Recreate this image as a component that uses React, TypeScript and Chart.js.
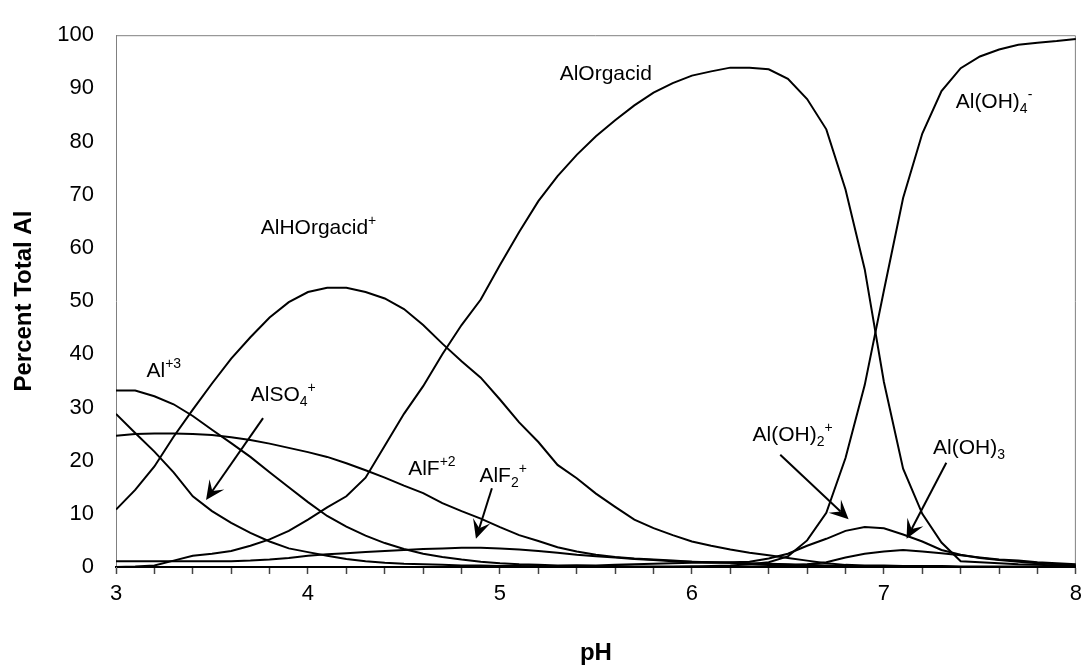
import React, { useEffect, useRef } from "react";
import { Chart, registerables } from "chart.js";

Chart.register(...registerables);

// pH grid (x values)
const pH = [
  3.0, 3.1, 3.2, 3.3, 3.4, 3.5, 3.6, 3.7, 3.8, 3.9,
  4.0, 4.1, 4.2, 4.3, 4.4, 4.5, 4.6, 4.7, 4.8, 4.9,
  5.0, 5.1, 5.2, 5.3, 5.4, 5.5, 5.6, 5.7, 5.8, 5.9,
  6.0, 6.1, 6.2, 6.3, 6.4, 6.5, 6.6, 6.7, 6.8, 6.9,
  7.0, 7.1, 7.2, 7.3, 7.4, 7.5, 7.6, 7.7, 7.8, 7.9, 8.0,
];

// Percent of total Al for each species
const al3 = [
  33.2, 33.2, 32.1, 30.6, 28.4, 25.8, 23.3, 20.7, 17.8, 15.0,
  12.2, 9.6, 7.6, 5.9, 4.5, 3.4, 2.5, 1.9, 1.4, 1.0,
  0.7, 0.5, 0.4, 0.3, 0.3, 0.2, 0.2, 0.1, 0.1, 0.1,
  0.1, 0, 0, 0, 0, 0, 0, 0, 0, 0,
  0, 0, 0, 0, 0, 0, 0, 0, 0, 0, 0,
];
const alSO4 = [
  28.8, 25.2, 21.7, 17.8, 13.3, 10.5, 8.3, 6.4, 4.8, 3.5,
  2.8, 2.1, 1.5, 1.1, 0.8, 0.6, 0.5, 0.4, 0.3, 0.3,
  0.2, 0.2, 0.1, 0.1, 0.1, 0.1, 0, 0, 0, 0,
  0, 0, 0, 0, 0, 0, 0, 0, 0, 0,
  0, 0, 0, 0, 0, 0, 0, 0, 0, 0, 0,
];
const alF = [
  24.7, 25.0, 25.1, 25.1, 25.0, 24.8, 24.4, 23.9, 23.2, 22.4,
  21.6, 20.7, 19.5, 18.2, 16.8, 15.3, 13.9, 12.0, 10.5, 9.1,
  7.5, 6.0, 4.9, 3.7, 2.9, 2.3, 1.9, 1.6, 1.4, 1.2,
  1.0, 0.9, 0.8, 0.7, 0.6, 0.5, 0.4, 0.3, 0.2, 0.2,
  0.1, 0.1, 0.1, 0.1, 0, 0, 0, 0, 0, 0, 0,
];
const alF2 = [
  1.1, 1.1, 1.1, 1.1, 1.1, 1.1, 1.1, 1.2, 1.4, 1.7,
  2.1, 2.4, 2.6, 2.8, 3.0, 3.2, 3.4, 3.5, 3.6, 3.6,
  3.5, 3.3, 3.0, 2.7, 2.3, 2.0, 1.8, 1.5, 1.3, 1.1,
  1.0, 0.9, 0.8, 0.6, 0.5, 0.4, 0.3, 0.2, 0.2, 0.1,
  0.1, 0.1, 0, 0, 0, 0, 0, 0, 0, 0, 0,
];
const alHOrgacid = [
  10.8, 14.5, 18.9, 24.5, 29.6, 34.5, 39.2, 43.2, 46.9, 49.8,
  51.7, 52.5, 52.5, 51.7, 50.5, 48.5, 45.5, 42.0, 38.7, 35.6,
  31.5, 27.2, 23.5, 19.2, 16.7, 13.8, 11.3, 8.9, 7.3, 6.0,
  4.8, 4.0, 3.3, 2.7, 2.2, 1.7, 1.2, 0.7, 0.4, 0.3,
  0.3, 0.2, 0.2, 0.2, 0.1, 0.1, 0.1, 0.1, 0.1, 0.1, 0.1,
];
const alOrgacid = [
  0.0, 0.1, 0.3, 1.2, 2.1, 2.5, 3.0, 4.0, 5.2, 6.8,
  8.9, 11.2, 13.3, 16.8, 22.8, 28.8, 34.0, 40.0, 45.5, 50.3,
  56.8, 63.0, 68.8, 73.5, 77.5, 81.0, 84.0, 86.8, 89.2, 91.0,
  92.4, 93.2, 93.9, 93.9, 93.6, 91.8, 88.0, 82.3, 71.0, 56.0,
  34.8, 18.5, 10.0, 4.6, 1.1, 0.9, 0.7, 0.5, 0.4, 0.3, 0.2,
];
const alOH4 = [
  0, 0, 0, 0, 0, 0, 0, 0, 0, 0,
  0, 0, 0, 0, 0, 0, 0, 0, 0, 0,
  0, 0, 0, 0, 0, 0, 0, 0, 0, 0,
  0.1, 0.2, 0.3, 0.5, 0.9, 2.0, 5.0, 10.2, 20.5, 34.2,
  52.0, 69.4, 81.5, 89.5, 93.8, 96.0, 97.3, 98.2, 98.6, 98.9, 99.3,
];
const alOH2 = [
  0, 0, 0, 0, 0, 0, 0, 0, 0, 0,
  0, 0, 0, 0, 0, 0, 0, 0, 0, 0,
  0.1, 0.1, 0.2, 0.2, 0.3, 0.3, 0.4, 0.5, 0.6, 0.7,
  0.8, 0.8, 0.9, 1.0, 1.6, 2.5, 4.0, 5.3, 6.8, 7.5,
  7.3, 6.1, 4.8, 3.2, 2.3, 1.7, 1.3, 1.0, 0.7, 0.5, 0.3,
];
const alOH3 = [
  0, 0, 0, 0, 0, 0, 0, 0, 0, 0,
  0, 0, 0, 0, 0, 0, 0, 0, 0, 0,
  0, 0, 0, 0, 0, 0, 0, 0, 0, 0,
  0, 0, 0.1, 0.1, 0.2, 0.3, 0.5, 0.9, 1.8, 2.5,
  2.9, 3.2, 2.9, 2.6, 2.2, 1.8, 1.4, 1.2, 0.9, 0.7, 0.5,
];

const seriesNames = [
  "Al+3", "AlSO4+", "AlF+2", "AlF2+", "AlHOrgacid+",
  "AlOrgacid", "Al(OH)4-", "Al(OH)2+", "Al(OH)3",
];
const seriesValues = [al3, alSO4, alF, alF2, alHOrgacid, alOrgacid, alOH4, alOH2, alOH3];

const xTitle = "pH";
const yTitle = "Percent Total Al";

// Curve labels: [pH, percent] of the text baseline start, with sub/superscript parts
type Part = { t: string; k?: "sub" | "sup" };
const curveLabels: { x: number; y: number; parts: Part[] }[] = [
  { x: 3.159, y: 35.8, parts: [{ t: "Al" }, { t: "+3", k: "sup" }] },
  { x: 3.702, y: 31.2, parts: [{ t: "AlSO" }, { t: "4", k: "sub" }, { t: "+", k: "sup" }] },
  { x: 3.754, y: 62.6, parts: [{ t: "AlHOrgacid" }, { t: "+", k: "sup" }] },
  { x: 5.311, y: 91.6, parts: [{ t: "AlOrgacid" }] },
  { x: 7.374, y: 86.3, parts: [{ t: "Al(OH)" }, { t: "4", k: "sub" }, { t: "-", k: "sup" }] },
  { x: 4.522, y: 17.3, parts: [{ t: "AlF" }, { t: "+2", k: "sup" }] },
  { x: 4.893, y: 16.0, parts: [{ t: "AlF" }, { t: "2", k: "sub" }, { t: "+", k: "sup" }] },
  { x: 6.316, y: 23.7, parts: [{ t: "Al(OH)" }, { t: "2", k: "sub" }, { t: "+", k: "sup" }] },
  { x: 7.256, y: 21.2, parts: [{ t: "Al(OH)" }, { t: "3", k: "sub" }] },
];

// Arrows: tail [pH, %] -> head [pH, %]
const arrowFrom = [[3.766, 28.0], [4.958, 14.8], [6.46, 21.1], [7.325, 19.6]];
const arrowTo = [[3.469, 12.6], [4.875, 5.3], [6.816, 9.0], [7.118, 5.3]];

const FONT = "'Liberation Sans', Arial, Helvetica, sans-serif";

const annotPlugin = {
  id: "annot",
  beforeDatasetsDraw(chart: any) {
    const { ctx, chartArea: a } = chart;
    ctx.save();
    ctx.strokeStyle = "#808080";
    ctx.lineWidth = 1;
    ctx.beginPath();
    ctx.moveTo(a.left, a.top + 0.5);
    ctx.lineTo(a.right - 0.5, a.top + 0.5);
    ctx.lineTo(a.right - 0.5, a.bottom);
    ctx.stroke();
    ctx.restore();
  },
  afterDatasetsDraw(chart: any) {
    const { ctx } = chart;
    const xs = chart.scales.x;
    const ys = chart.scales.y;
    ctx.save();
    ctx.fillStyle = "#000";
    ctx.textAlign = "left";
    ctx.textBaseline = "alphabetic";
    for (const lab of curveLabels) {
      let px = xs.getPixelForValue(lab.x);
      const py = ys.getPixelForValue(lab.y);
      for (const p of lab.parts) {
        const small = !!p.k;
        ctx.font = `${small ? 14 : 21}px ${FONT}`;
        const dy = p.k === "sup" ? -9 : p.k === "sub" ? 5 : 0;
        ctx.fillText(p.t, px, py + dy);
        px += ctx.measureText(p.t).width;
      }
    }
    ctx.strokeStyle = "#000";
    ctx.fillStyle = "#000";
    ctx.lineWidth = 2;
    for (let i = 0; i < arrowFrom.length; i++) {
      const x0 = xs.getPixelForValue(arrowFrom[i][0]);
      const y0 = ys.getPixelForValue(arrowFrom[i][1]);
      const x1 = xs.getPixelForValue(arrowTo[i][0]);
      const y1 = ys.getPixelForValue(arrowTo[i][1]);
      const ang = Math.atan2(y1 - y0, x1 - x0);
      const c = Math.cos(ang), s = Math.sin(ang);
      const L = 19, W = 9, N = 11;
      ctx.beginPath();
      ctx.moveTo(x0, y0);
      ctx.lineTo(x1 - N * c, y1 - N * s);
      ctx.stroke();
      const bx = x1 - L * c, by = y1 - L * s;
      ctx.beginPath();
      ctx.moveTo(x1, y1);
      ctx.lineTo(bx - W * s, by + W * c);
      ctx.lineTo(x1 - N * c, y1 - N * s);
      ctx.lineTo(bx + W * s, by - W * c);
      ctx.closePath();
      ctx.fill();
    }
    ctx.restore();
  },
};

export default function App() {
  const ref = useRef<HTMLCanvasElement>(null);
  useEffect(() => {
    const datasets = seriesValues.map((vals, k) => ({
      label: seriesNames[k],
      data: pH.map((x, i) => ({ x, y: vals[i] })),
      borderColor: "#000",
      backgroundColor: "#000",
      borderWidth: 2,
      pointRadius: 0,
      tension: 0,
      fill: false,
    }));
    const chart = new Chart(ref.current as HTMLCanvasElement, {
      type: "line",
      data: { datasets },
      plugins: [annotPlugin],
      options: {
        animation: false,
        responsive: false,
        layout: { padding: { left: 0, right: 7, top: 20, bottom: 0 } },
        plugins: { legend: { display: false }, tooltip: { enabled: false } },
        scales: {
          x: {
            type: "linear",
            min: 3,
            max: 8,
            afterFit: (s: any) => { s.height = 104; },
            ticks: {
              stepSize: 0.2,
              maxTicksLimit: 100,
              autoSkip: false,
              maxRotation: 0,
              padding: 7,
              color: "#000",
              font: { family: FONT, size: 22 },
              callback: (v: any) => {
                const n = Number(v);
                return Math.abs(n - Math.round(n)) < 1e-6 ? String(Math.round(n)) : "";
              },
            },
            grid: { drawOnChartArea: false, drawTicks: true, tickLength: 7, tickColor: "#444", tickWidth: 1.5 },
            border: { color: "#000", width: 2 },
            title: {
              display: true,
              text: xTitle,
              color: "#000",
              font: { family: FONT, size: 24, weight: "bold" },
              padding: { top: 0, bottom: 3 },
            },
          },
          y: {
            type: "linear",
            min: 0,
            max: 100,
            afterFit: (s: any) => { s.width = 116; },
            ticks: {
              stepSize: 10,
              padding: 22,
              color: "#000",
              font: { family: FONT, size: 22 },
            },
            grid: { drawOnChartArea: false, drawTicks: false },
            border: { color: "#808080", width: 1 },
            title: {
              display: true,
              text: yTitle,
              color: "#000",
              font: { family: FONT, size: 24, weight: "bold" },
              padding: { top: 10, bottom: 0 },
            },
          },
        },
      },
    } as any);
    return () => chart.destroy();
  }, []);
  return (
    <div style={{ position: "absolute", left: 0, top: 0, width: 1089, height: 671, background: "#fff" }}>
      <canvas ref={ref} width={1089} height={671} style={{ display: "block" }} />
    </div>
  );
}
